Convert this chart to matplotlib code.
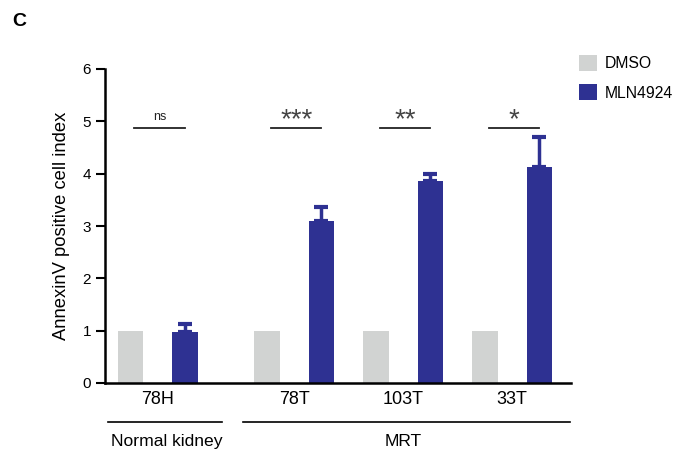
import matplotlib
matplotlib.use("Agg")
import matplotlib.pyplot as plt

plt.rcParams['font.family'] = ['Liberation Sans', 'DejaVu Sans']

categories = ["78H", "78T", "103T", "33T"]
dmso = [1.0, 1.0, 1.0, 1.0]
mln = [0.98, 3.1, 3.86, 4.12]
mln_err = [0.14, 0.26, 0.14, 0.58]
sig_labels = ["ns", "***", "**", "*"]
sig_level = 4.87
groups = ["Normal kidney", "MRT"]

positions = [0.0, 2.5, 4.5, 6.5]
off = 0.5
w = 0.47
gray = "#D1D3D2"
navy = "#2E3192"

fig = plt.figure(figsize=(6.75, 4.54), dpi=100)
ax = fig.add_axes([105/675, 71/454, (571-105)/675, (383-69)/454])

xd = [p - off for p in positions]
xm = [p + off for p in positions]
ax.bar(xd, dmso, width=w, color=gray, label="DMSO", zorder=2)
ax.bar(xm, mln, width=w, color=navy, label="MLN4924", zorder=2,
       yerr=[[0]*len(mln), mln_err], error_kw=dict(ecolor=navy, elinewidth=2.5, capsize=5, capthick=3))

for p, s in zip(positions, sig_labels):
    ax.plot([p - 0.43, p + 0.5], [sig_level, sig_level], color="#222222", lw=1.3, clip_on=False)
    if s == "ns":
        ax.text(p + 0.03, sig_level + 0.1, s, ha="center", va="bottom", fontsize=9, color="#222222")
    else:
        ax.text(p + 0.04, sig_level - 0.1, s, ha="center", va="bottom", fontsize=20, color="#444444")

ax.set_xlim(-0.97, 7.58)
ax.set_ylim(0, 6)
ax.set_yticks(range(0, 7))
ax.tick_params(axis='y', direction='out', length=6.5, width=1.5, labelsize=11, pad=3.5)
ax.set_xticks(positions)
ax.set_xticklabels(categories, fontsize=13)
ax.tick_params(axis='x', length=0, pad=6)
for sp in ["top", "right"]:
    ax.spines[sp].set_visible(False)
ax.spines["left"].set_linewidth(1.8)
ax.spines["bottom"].set_linewidth(1.8)
ax.set_ylabel("AnnexinV positive cell index", fontsize=13.2, labelpad=9)

# group brackets
trans = ax.get_xaxis_transform()
bracket_y = -0.124
ax.plot([-0.92, 1.17], [bracket_y, bracket_y], color="black", lw=1.2, transform=trans, clip_on=False)
ax.plot([1.56, 7.56], [bracket_y, bracket_y], color="black", lw=1.2, transform=trans, clip_on=False)
ax.text(0.165, -0.185, groups[0], ha="center", va="center", fontsize=12.6, transform=trans)
ax.text(4.5, -0.185, groups[1], ha="center", va="center", fontsize=12.6, transform=trans)

leg = fig.legend(loc="upper left", bbox_to_anchor=(579/675, 1 - 55/454), frameon=False,
                 fontsize=11.3, handlelength=1.15, handleheight=1.15, labelspacing=0.85,
                 handletextpad=0.5, borderpad=0, borderaxespad=0)

fig.text(12/675, 1 - 22/454, "C", fontsize=14, fontweight="bold", va="center")

fig.savefig("out.png", dpi=100)
